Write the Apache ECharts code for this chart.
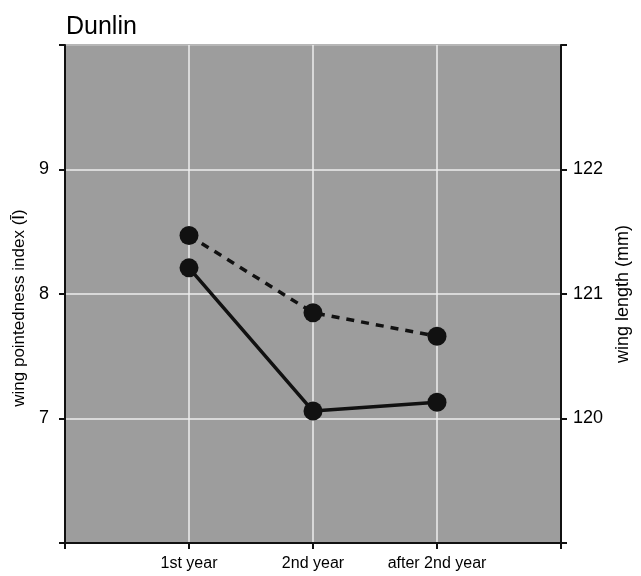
<!DOCTYPE html>
<html>
<head>
<meta charset="utf-8">
<script src="https://cdn.jsdelivr.net/npm/echarts@6/dist/echarts.min.js"></script>
<style>
  html, body { margin: 0; padding: 0; background: #fff; }
  #chart { width: 641px; height: 576px; }
</style>
</head>
<body>
<div id="chart"></div>
<script>
// age classes, placed at x = 1, 2, 3
var categories = ['1st year', '2nd year', 'after 2nd year'];
var categoryPos = [1, 2, 3];
// wing pointedness index (left axis), solid line
var pointedness = [8.21, 7.06, 7.13];
// wing length in mm (right axis), dashed line
var wingLength = [121.47, 120.85, 120.66];

var leftTicks = [7, 8, 9];
var rightTicks = [120, 121, 122];

function pairs(xs, ys) {
    return xs.map(function (x, i) { return [x, ys[i]]; });
}

var font = '"Liberation Sans", Arial, Helvetica, sans-serif';

var myChart = echarts.init(document.getElementById('chart'));
var option = {
    animation: false,
    title: {
        text: 'Dunlin',
        left: 61,
        top: 10,
        textStyle: { fontFamily: font, fontSize: 25, fontWeight: 'normal', color: '#000' }
    },
    grid: {
        left: 65,
        right: 80,
        top: 45,
        bottom: 33,
        outerBoundsMode: 'none',
        show: true,
        backgroundColor: '#9d9d9d',
        borderColor: '#111',
        borderWidth: 2
    },
    xAxis: {
        type: 'value',
        min: 0,
        max: 4,
        interval: 1,
        axisLine: { lineStyle: { color: '#111', width: 2 } },
        axisTick: { show: true, length: 6, lineStyle: { color: '#111', width: 2 } },
        axisLabel: {
            margin: 13,
            fontFamily: font,
            fontSize: 16,
            color: '#000',
            formatter: function (v) {
                var i = categoryPos.indexOf(v);
                return i >= 0 ? categories[i] : '';
            }
        },
        splitLine: { show: true, lineStyle: { color: '#eeeeee', width: 1.5 } }
    },
    yAxis: [
        {
            type: 'value',
            min: 6,
            max: 10,
            interval: 1,
            name: 'wing pointedness index (\u012A)',
            nameLocation: 'middle',
            nameGap: 36,
            nameTextStyle: { fontFamily: font, fontSize: 17, color: '#000', padding: [0, 28, 0, 0] },
            axisLine: { show: true, lineStyle: { color: '#111', width: 2 } },
            axisTick: { show: true, length: 6, lineStyle: { color: '#111', width: 2 } },
            axisLabel: {
                margin: 16,
                fontFamily: font,
                fontSize: 18,
                color: '#000',
                formatter: function (v) { return leftTicks.indexOf(v) >= 0 ? String(v) : ''; }
            },
            splitLine: { show: true, lineStyle: { color: '#eeeeee', width: 1.5 } }
        },
        {
            type: 'value',
            min: 119,
            max: 123,
            interval: 1,
            position: 'right',
            name: 'wing length (mm)',
            nameLocation: 'middle',
            nameGap: 49,
            nameRotate: 90,
            nameTextStyle: { fontFamily: font, fontSize: 18, color: '#000' },
            axisLine: { show: true, lineStyle: { color: '#111', width: 2 } },
            axisTick: { show: true, length: 6, lineStyle: { color: '#111', width: 2 } },
            axisLabel: {
                margin: 12,
                fontFamily: font,
                fontSize: 18,
                color: '#000',
                formatter: function (v) { return rightTicks.indexOf(v) >= 0 ? String(v) : ''; }
            },
            splitLine: { show: false }
        }
    ],
    series: [
        {
            type: 'line',
            yAxisIndex: 0,
            data: pairs(categoryPos, pointedness),
            symbol: 'circle',
            symbolSize: 19,
            itemStyle: { color: '#111' },
            lineStyle: { color: '#111', width: 3.5, type: 'solid' },
            z: 3
        },
        {
            type: 'line',
            yAxisIndex: 1,
            data: pairs(categoryPos, wingLength),
            symbol: 'circle',
            symbolSize: 19,
            itemStyle: { color: '#111' },
            lineStyle: { color: '#111', width: 3.5, type: [8, 7] },
            z: 3
        }
    ]
};
myChart.setOption(option);
</script>
</body>
</html>
